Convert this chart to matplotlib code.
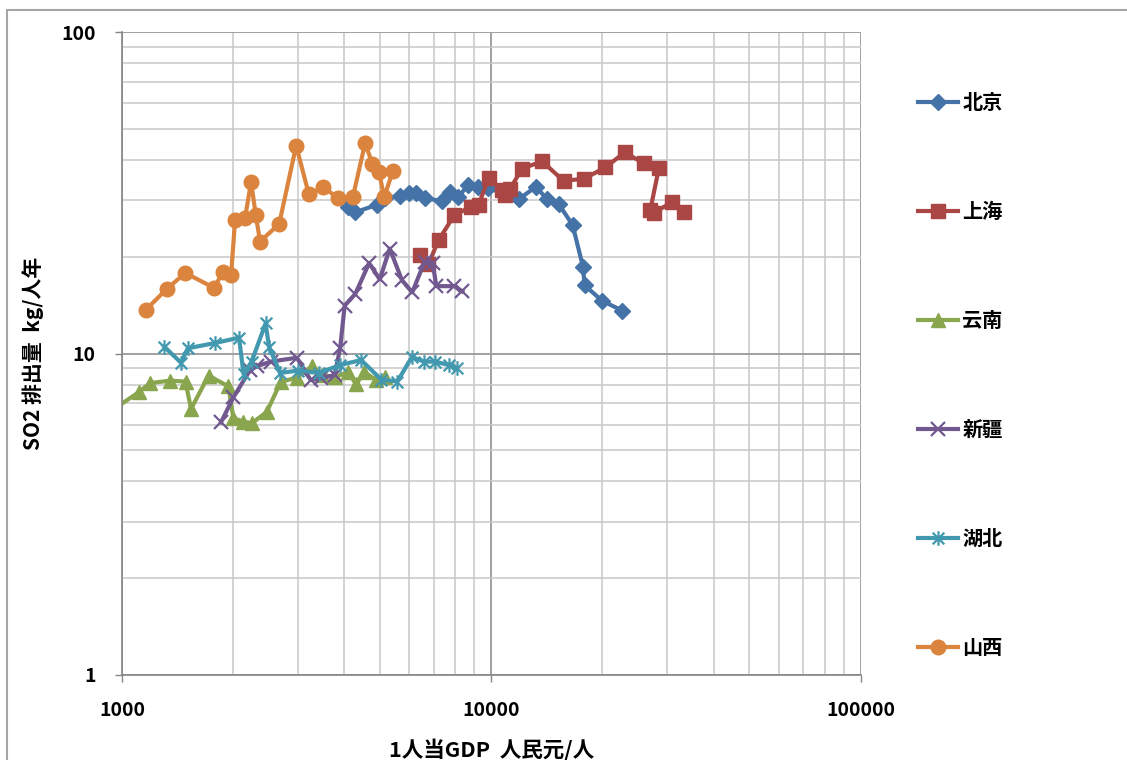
import matplotlib
matplotlib.use("Agg")
import matplotlib.pyplot as plt
from matplotlib.path import Path
from matplotlib.patches import Rectangle
from matplotlib.ticker import LogLocator, NullFormatter, FixedLocator, FixedFormatter

plt.rcParams['font.family'] = ['Noto Sans CJK JP', 'DejaVu Sans']
plt.rcParams['font.weight'] = 'bold'

# ---- data: GDP per capita (CNY/person) vs SO2 emission (kg/person/year) ----
beijing_gdp = [4090, 4280, 4900, 5160, 5670, 6000, 6250, 6620, 7350, 7740, 8140,
               8660, 9220, 9810, 11910, 13220, 14160, 15220, 16610, 17720, 17890,
               19950, 22600]
beijing_so2 = [28.5, 27.5, 29.0, 30.5, 30.9, 31.5, 31.5, 30.4, 29.8, 31.8, 30.7,
               33.4, 32.9, 32.7, 30.3, 33.0, 30.2, 29.2, 25.1, 18.6, 16.3,
               14.6, 13.6]

shanghai_gdp = [6420, 6760, 7200, 7950, 8830, 9240, 9830, 10690, 10910, 11260,
                12120, 13750, 15700, 17870, 20370, 22960, 25860, 28440, 26970,
                27540, 30940, 33200]
shanghai_so2 = [20.2, 19.0, 22.5, 27.0, 28.6, 29.0, 35.1, 32.3, 31.1, 32.6,
                37.6, 39.6, 34.4, 35.0, 37.9, 42.2, 39.1, 37.7, 28.0,
                27.4, 29.6, 27.6]

yunnan_gdp = [930, 1112, 1191, 1349, 1486, 1538, 1716, 1941, 2003, 2132, 2247,
              2467, 2689, 2975, 3273, 3483, 3778, 4098, 4307, 4527, 4878, 5160]
yunnan_so2 = [6.60, 7.59, 8.09, 8.23, 8.18, 6.72, 8.54, 7.90, 6.29, 6.14, 6.07,
              6.58, 8.15, 8.42, 9.14, 8.57, 8.45, 8.76, 8.01, 8.76, 8.27, 8.45]

xinjiang_gdp = [1854, 2003, 2223, 2322, 2534, 2975, 3243, 3451, 3766, 3897, 4009,
                4280, 4670, 4990, 5310, 5730, 6110, 6600, 6940, 7100, 7940, 8350]
xinjiang_so2 = [6.11, 7.30, 8.89, 9.14, 9.44, 9.70, 8.27, 8.37, 8.57, 10.38, 14.1,
                15.3, 19.1, 17.0, 21.2, 16.9, 15.5, 19.3, 19.1, 16.2, 16.2, 15.6]

hubei_gdp = [1302, 1445, 1507, 1786, 2075, 2134, 2244, 2448, 2502, 2680, 3000,
             3420, 3897, 4443, 5035, 5565, 6100, 6580, 7050, 7660, 8070]
hubei_so2 = [10.5, 9.36, 10.38, 10.78, 11.2, 8.64, 9.43, 12.4, 10.5, 8.70, 8.85,
             8.70, 9.21, 9.54, 8.30, 8.18, 9.75, 9.43, 9.44, 9.21, 8.99]

shanxi_gdp = [1162, 1324, 1484, 1776, 1875, 1975, 2024, 2154, 2237, 2303, 2366,
              2665, 2962, 3206, 3512, 3849, 4220, 4554, 4767, 4963, 5129, 5415]
shanxi_so2 = [13.7, 15.9, 17.8, 16.0, 17.9, 17.6, 26.0, 26.4, 34.2, 26.9, 22.3,
              25.3, 44.3, 31.3, 32.9, 30.4, 30.7, 45.1, 38.9, 36.7, 30.7, 36.9]

names = ['北京', '上海', '云南', '新疆', '湖北', '山西']
x_ticks = [1000, 10000, 100000]
x_tick_labels = ['1000', '10000', '100000']
y_ticks = [1, 10, 100]
y_tick_labels = ['1', '10', '100']

# asterisk marker: vertical bar plus two diagonals
star = Path([(0, -1), (0, 1), (-0.8, -0.8), (0.8, 0.8), (-0.8, 0.8), (0.8, -0.8)],
            [Path.MOVETO, Path.LINETO, Path.MOVETO, Path.LINETO, Path.MOVETO, Path.LINETO])

series = [
    (beijing_gdp, beijing_so2, dict(color='#4572A7', marker='D', ms=8)),
    (shanghai_gdp, shanghai_so2, dict(color='#AA4643', marker='s', ms=10)),
    (yunnan_gdp, yunnan_so2, dict(color='#89A54E', marker='^', ms=10.5)),
    (xinjiang_gdp, xinjiang_so2, dict(color='#71588F', marker='x', ms=9.5, mew=1.6)),
    (hubei_gdp, hubei_so2, dict(color='#4198AF', marker=star, ms=10.5, mew=1.6,
                                mfc='none')),
    (shanxi_gdp, shanxi_so2, dict(color='#DB843D', marker='o', ms=10.5)),
]

W, H = 1127, 760
fig = plt.figure(figsize=(W / 100, H / 100), dpi=100)
ax = fig.add_axes([122 / W, 1 - 675 / H, (860.5 - 122) / W, (675 - 32) / H])

for (xs, ys, st), name in zip(series, names):
    ax.plot(xs, ys, lw=3.0, label=name, clip_on=True, solid_joinstyle='round', **st)

ax.set_xscale('log')
ax.set_yscale('log')
ax.set_xlim(1000, 100000)
ax.set_ylim(1, 100)

ax.xaxis.set_major_locator(FixedLocator(x_ticks))
ax.xaxis.set_major_formatter(FixedFormatter(x_tick_labels))
ax.yaxis.set_major_locator(FixedLocator(y_ticks))
ax.yaxis.set_major_formatter(FixedFormatter(y_tick_labels))
for a in (ax.xaxis, ax.yaxis):
    a.set_minor_locator(LogLocator(base=10, subs=range(2, 10)))
    a.set_minor_formatter(NullFormatter())

ax.grid(True, which='major', color='#a0a0a0', lw=1.4)
ax.grid(True, which='minor', color='#c8c8c8', lw=1.1)
ax.set_axisbelow(True)

ax.tick_params(which='major', direction='out', length=5, width=1, color='#868686',
               labelsize=14, pad=14)
ax.tick_params(which='minor', length=0)
for lab in ax.get_xticklabels() + ax.get_yticklabels():
    lab.set_fontweight('bold')

for s in ('top', 'right'):
    ax.spines[s].set_visible(False)
for s in ('left', 'bottom'):
    ax.spines[s].set_color('#868686')
    ax.spines[s].set_linewidth(1.2)

ax.set_xlabel('1人当GDP  人民元/人', fontsize=15.5, fontweight='bold')
ax.set_ylabel('SO2 排出量  kg/人年', fontsize=15, fontweight='bold')
ax.xaxis.set_label_coords(0.5, (675 - 750) / 643)
ax.xaxis.label.set_va('center')
ax.yaxis.set_label_coords((33 - 122) / 738.5, 0.5)
ax.yaxis.label.set_va('center')

leg = ax.legend(loc='upper left', bbox_to_anchor=(900 / W, 1 - 74 / H),
                bbox_transform=fig.transFigure, frameon=False,
                handlelength=2.0, handletextpad=0.2, labelspacing=4.37,
                numpoints=1, prop={'weight': 'bold', 'size': 14.5})

# chart frame
fig.add_artist(Rectangle((7 / W, -0.05), 1.2, (H - 10) / H + 0.05,
                         transform=fig.transFigure, fill=False,
                         ec='#a6a6a6', lw=1.5))

fig.savefig('out.png', dpi=100)
